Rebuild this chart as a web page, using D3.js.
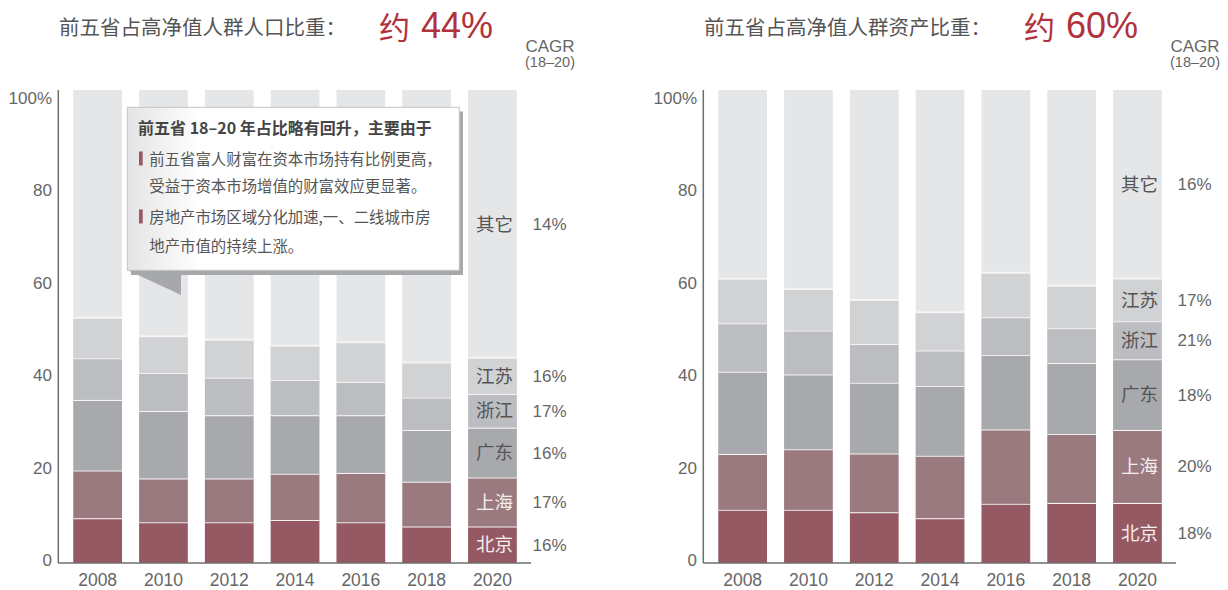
<!DOCTYPE html>
<html>
<head>
<meta charset="utf-8">
<script src="https://cdn.jsdelivr.net/npm/d3@7/dist/d3.min.js"></script>
<style>
  html, body { margin: 0; padding: 0; background: #fff; }
  svg { display: block; }
  text { font-family: "Liberation Sans", "Noto Sans CJK SC", sans-serif; }
  .cjk { font-family: "Noto Sans CJK SC", "Liberation Sans", sans-serif; }
</style>
</head>
<body>
<div id="chart"></div>
<script>
// data (share of national total, %)
var years = ['2008', '2010', '2012', '2014', '2016', '2018', '2020'];
var provinces = ['北京', '上海', '广东', '浙江', '江苏'];

// 高净值人群人口比重
var popBJ = [9.7, 8.8, 8.8, 9.3, 8.8, 7.9, 7.9];
var popSH = [10.3, 9.5, 9.5, 10.0, 10.7, 9.7, 10.6];
var popGD = [15.3, 14.6, 13.7, 12.7, 12.5, 11.2, 10.8];
var popZJ = [9.0, 8.2, 8.1, 7.6, 7.2, 7.0, 7.3];
var popJS = [8.8, 8.0, 8.2, 7.4, 8.6, 7.6, 7.8];
var popCagr = ['16%', '17%', '16%', '17%', '16%', '14%'];   // 北京..江苏, 其它

// 高净值人群资产比重
var assetBJ = [11.5, 11.5, 11.0, 9.7, 12.8, 13.0, 13.0];
var assetSH = [12.1, 13.1, 12.7, 13.5, 16.1, 14.9, 15.8];
var assetGD = [17.8, 16.2, 15.3, 15.1, 16.1, 15.4, 15.3];
var assetZJ = [10.5, 9.5, 8.4, 7.7, 8.2, 7.5, 8.2];
var assetJS = [9.6, 9.0, 9.5, 8.3, 9.6, 9.2, 9.3];
var assetCagr = ['18%', '20%', '18%', '21%', '17%', '16%'];

var yTicks = [0, 20, 40, 60, 80, 100];
var otherName = '其它';

var colors = ['#955963', '#9b7a7f', '#a8a9ac', '#bcbdc0', '#d1d2d4'];
var otherColor = '#e5e6e8';

var svg = d3.select('#chart').append('svg')
  .attr('width', 1228)
  .attr('height', 590);

var defs = svg.append('defs');
var grad = defs.append('linearGradient').attr('id', 'boxGrad');
grad.append('stop').attr('offset', '0%').attr('stop-color', '#e4e4e6');
grad.append('stop').attr('offset', '22%').attr('stop-color', '#ffffff');

var baseY = 563, topY = 90;

var y = d3.scaleLinear().domain([0, 100]).range([baseY, 101]);

var drawChart = (ox, series, cagr, title, big) => {
  let g = svg.append('g').attr('transform', `translate(${ ox }, 0)`);

  let rows = years.map((yr, i) => {
    let r = { year: yr };
    provinces.forEach((p, k) => { r[p] = series[k][i]; });
    return r;
  });

  let stack = d3.stack().keys(provinces)(rows);

  let x = d3.scaleBand()
    .domain(years)
    .range([73.3, 516.8])
    .paddingInner(0.26)
    .paddingOuter(0);

  // "其它" = full column behind the provinces
  g.selectAll('rect.other')
    .data(years)
    .enter().append('rect')
    .attr('class', 'other')
    .attr('x', (d) => x(d))
    .attr('y', topY)
    .attr('width', x.bandwidth())
    .attr('height', baseY - topY)
    .attr('fill', otherColor);

  let layer = g.selectAll('g.layer')
    .data(stack)
    .enter().append('g')
    .attr('class', 'layer')
    .attr('fill', (d, i) => colors[i]);

  layer.selectAll('rect')
    .data((d) => d)
    .enter().append('rect')
    .attr('x', (d) => x(d.data.year))
    .attr('y', (d) => y(d[1]))
    .attr('width', x.bandwidth())
    .attr('height', (d) => y(d[0]) - y(d[1]));

  // white separators
  layer.selectAll('line')
    .data((d) => d)
    .enter().append('line')
    .attr('x1', (d) => x(d.data.year))
    .attr('x2', (d) => x(d.data.year) + x.bandwidth())
    .attr('y1', (d) => y(d[1]))
    .attr('y2', (d) => y(d[1]))
    .attr('stroke', '#f4f4f5')
    .attr('stroke-width', 2);

  // axes
  g.append('line')
    .attr('x1', 58.3).attr('x2', 58.3)
    .attr('y1', topY).attr('y2', baseY)
    .attr('stroke', '#6e6e6e').attr('stroke-width', 1.5);
  g.append('line')
    .attr('x1', 58.3).attr('x2', 531)
    .attr('y1', baseY).attr('y2', baseY)
    .attr('stroke', '#6e6e6e').attr('stroke-width', 1.5);

  g.selectAll('text.ytick')
    .data(yTicks)
    .enter().append('text')
    .attr('class', 'ytick')
    .attr('x', 52)
    .attr('y', (d) => y(d) - 3)
    .attr('dy', '0.35em')
    .attr('text-anchor', 'end')
    .attr('font-size', 17)
    .attr('fill', '#666')
    .text((d) => d === 100 ? '100%' : d);

  g.selectAll('text.xtick')
    .data(years)
    .enter().append('text')
    .attr('class', 'xtick')
    .attr('x', (d) => x(d) + x.bandwidth() / 2)
    .attr('y', 580)
    .attr('dy', '0.35em')
    .attr('text-anchor', 'middle')
    .attr('font-size', 17.5)
    .attr('fill', '#666')
    .text((d) => d);

  // labels in the last column
  let last = years[years.length - 1];
  let cx = x(last) + x.bandwidth() / 2 + 2;
  let lastSegs = stack.map((s) => s[s.length - 1]);
  let labels = lastSegs.map((s, i) => ({
    name: provinces[i], mid: (y(s[0]) + y(s[1])) / 2, pct: cagr[i], light: i < 2
  }));
  let topOfStack = lastSegs[lastSegs.length - 1][1];
  labels.push({ name: otherName, mid: (topY + y(topOfStack)) / 2, pct: cagr[5], light: false });

  g.selectAll('text.prov')
    .data(labels)
    .enter().append('text')
    .attr('class', 'prov cjk')
    .attr('x', cx)
    .attr('y', (d) => d.mid)
    .attr('dy', '0.36em')
    .attr('text-anchor', 'middle')
    .attr('font-size', 18.5)
    .attr('fill', (d) => d.light ? '#f5eeee' : '#555')
    .text((d) => d.name);

  g.selectAll('text.pct')
    .data(labels)
    .enter().append('text')
    .attr('class', 'pct')
    .attr('x', 549.5)
    .attr('y', (d) => d.mid)
    .attr('dy', '0.35em')
    .attr('text-anchor', 'middle')
    .attr('font-size', 17)
    .attr('fill', '#666')
    .text((d) => d.pct);

  // titles
  g.append('text')
    .attr('class', 'cjk')
    .attr('x', 59)
    .attr('y', 35)
    .attr('font-size', 20.5)
    .attr('fill', '#555')
    .text(title);

  g.append('text')
    .attr('class', 'cjk')
    .attr('x', 379)
    .attr('y', 39)
    .attr('font-size', 31)
    .attr('fill', '#b0323c')
    .text('约');
  g.append('text')
    .attr('x', 421)
    .attr('y', 38)
    .attr('font-size', 36)
    .attr('fill', '#b0323c')
    .text(big);

  g.append('text')
    .attr('x', 550).attr('y', 52)
    .attr('text-anchor', 'middle')
    .attr('font-size', 17)
    .attr('fill', '#666')
    .text('CAGR');
  g.append('text')
    .attr('x', 550).attr('y', 67)
    .attr('text-anchor', 'middle')
    .attr('font-size', 14.5)
    .attr('fill', '#666')
    .text('(18–20)');

  return g;
};

var left = drawChart(0, [popBJ, popSH, popGD, popZJ, popJS], popCagr, '前五省占高净值人群人口比重：', '44%');
drawChart(645, [assetBJ, assetSH, assetGD, assetZJ, assetJS], assetCagr, '前五省占高净值人群资产比重：', '60%');

// callout box
{
  let c = left.append('g');

  c.append('path')
    .attr('d', 'M127.3,270 L181,270 L181,295 Z')
    .attr('fill', '#a7a8ab');
  c.append('rect')
    .attr('x', 131).attr('y', 111.5)
    .attr('width', 332).attr('height', 163.5)
    .attr('fill', '#a7a8ab');
  c.append('rect')
    .attr('x', 127.3).attr('y', 107.3)
    .attr('width', 332).attr('height', 163)
    .attr('fill', 'url(#boxGrad)')
    .attr('stroke', '#c4c4c6')
    .attr('stroke-width', 1);

  c.append('text')
    .attr('class', 'cjk')
    .attr('x', 138).attr('y', 134)
    .attr('font-size', 16)
    .attr('font-weight', 'bold')
    .attr('fill', '#454545')
    .text('前五省 18–20 年占比略有回升，主要由于');

  let lines = [
    { t: '前五省富人财富在资本市场持有比例更高，', b: 165, bullet: true },
    { t: '受益于资本市场增值的财富效应更显著。', b: 192, bullet: false },
    { t: '房地产市场区域分化加速,一、二线城市房', b: 223, bullet: true },
    { t: '地产市值的持续上涨。', b: 252, bullet: false }
  ];

  c.selectAll('text.line')
    .data(lines)
    .enter().append('text')
    .attr('class', 'line cjk')
    .attr('x', 149.3)
    .attr('y', (d) => d.b)
    .attr('font-size', 15.4)
    .attr('fill', '#555')
    .text((d) => d.t);

  c.selectAll('rect.bullet')
    .data(lines.filter((d) => d.bullet))
    .enter().append('rect')
    .attr('class', 'bullet')
    .attr('x', 139).attr('y', (d) => d.b - 13.5)
    .attr('width', 3.7).attr('height', 14)
    .attr('fill', '#9a5a64');
}
</script>
</body>
</html>
